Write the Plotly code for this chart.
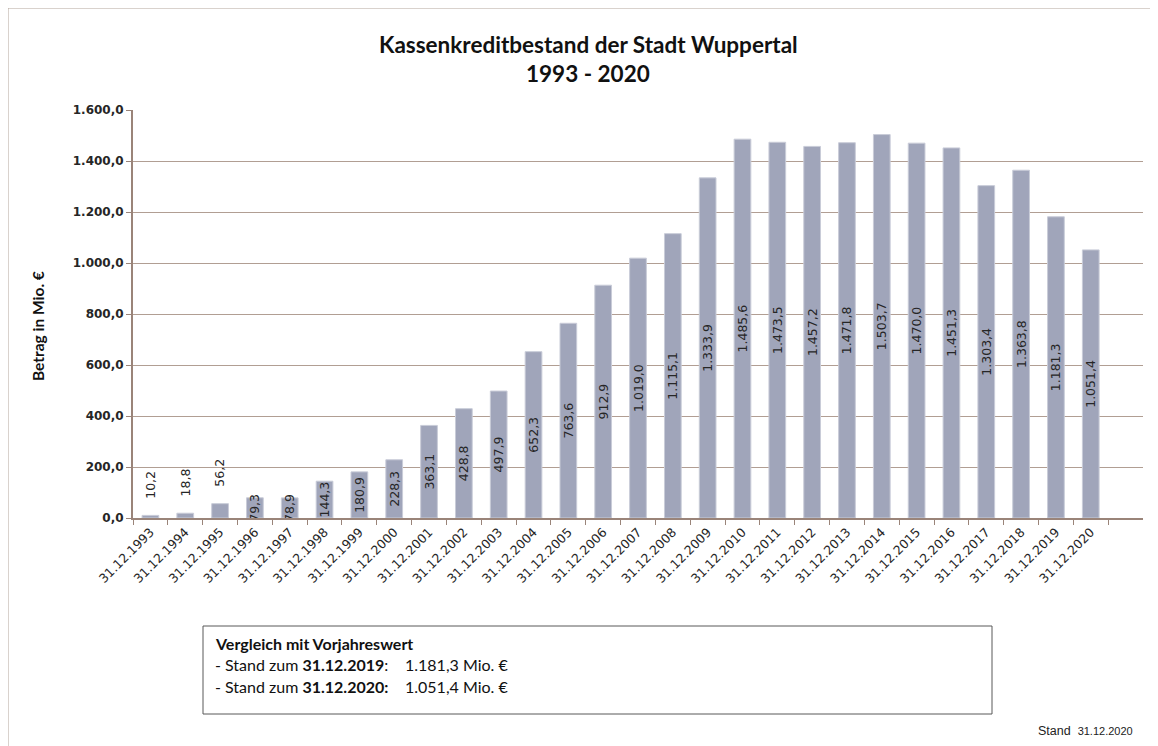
import plotly.graph_objects as go

# ---- data ----
dates = ["31.12.%d" % y for y in range(1993, 2021)]
values = [10.2, 18.8, 56.2, 79.3, 78.9, 144.3, 180.9, 228.3, 363.1, 428.8,
          497.9, 652.3, 763.6, 912.9, 1019.0, 1115.1, 1333.9, 1485.6, 1473.5,
          1457.2, 1471.8, 1503.7, 1470.0, 1451.3, 1303.4, 1363.8, 1181.3, 1051.4]
y_ticks = [0, 200, 400, 600, 800, 1000, 1200, 1400, 1600]
y_ticktext = ["0,0", "200,0", "400,0", "600,0", "800,0", "1.000,0",
              "1.200,0", "1.400,0", "1.600,0"]
outside_labels = ["31.12.1993", "31.12.1994", "31.12.1995"]


def de_fmt(v):
    s = "{:,.1f}".format(v)
    return s.replace(",", "X").replace(".", ",").replace("X", ".")


labels = [de_fmt(v) for v in values]
inside_text = ["" if d in outside_labels else t for d, t in zip(dates, labels)]

OFF = 8  # page body margin
W, H = 1158 - OFF, 746 - OFF
L, R, T, B = 133 - OFF, 15, 110 - OFF, 228
PW, PH = W - L - R, H - T - B


def px(x):
    return (x - OFF - L) / PW


def py(y):
    return (H - B - (y - OFF)) / PH


BAR = "#a0a5ba"
GRID = "#b19e93"
AXIS = "#9a8479"
TXT = "#262626"

fig = go.Figure()
fig.add_trace(go.Bar(
    x=dates, y=values,
    marker=dict(color=BAR, line=dict(color="#c9ccd8", width=1)),
    width=0.48,
    text=inside_text,
    textposition="inside",
    insidetextanchor="middle",
    textangle=-90,
    constraintext="none",
    insidetextfont=dict(family="DejaVu Sans", size=12.5, color=TXT),
    hoverinfo="x+y",
))

annotations = []
for d, v, t in zip(dates, values, labels):
    if d in outside_labels:
        annotations.append(dict(x=d, y=v, xref="x", yref="y", text=t,
                                showarrow=False, textangle=-90,
                                yanchor="bottom", yshift=15,
                                font=dict(family="DejaVu Sans", size=12.5, color=TXT)))

BOX_FONT = dict(family="Lato", size=16, color="#111111")
annotations += [
    dict(x=px(588), y=py(45), xref="paper", yref="paper",
         text="<b>Kassenkreditbestand der Stadt Wuppertal</b>", showarrow=False,
         font=dict(family="Lato", size=22.5, color="#111111"), xanchor="center", yanchor="middle"),
    dict(x=px(588), y=py(73), xref="paper", yref="paper",
         text="<b>1993 - 2020</b>", showarrow=False,
         font=dict(family="Lato", size=22.5, color="#111111"), xanchor="center", yanchor="middle"),
    dict(x=px(38), y=py(326), xref="paper", yref="paper",
         text="<b>Betrag in Mio. €</b>", showarrow=False, textangle=-90,
         font=dict(family="Lato", size=15.5, color="#111111"), xanchor="center", yanchor="middle"),
    dict(x=px(213), y=py(643), xref="paper", yref="paper",
         text="<b>Vergleich mit Vorjahreswert</b>", showarrow=False,
         font=BOX_FONT, xanchor="left", yanchor="middle"),
    dict(x=px(213), y=py(664), xref="paper", yref="paper",
         text="- Stand zum <b>31.12.2019</b>:", showarrow=False,
         font=BOX_FONT, xanchor="left", yanchor="middle"),
    dict(x=px(403), y=py(664), xref="paper", yref="paper",
         text="1.181,3 Mio. €", showarrow=False,
         font=BOX_FONT, xanchor="left", yanchor="middle"),
    dict(x=px(213), y=py(686), xref="paper", yref="paper",
         text="- Stand zum <b>31.12.2020:</b>", showarrow=False,
         font=BOX_FONT, xanchor="left", yanchor="middle"),
    dict(x=px(403), y=py(686), xref="paper", yref="paper",
         text="1.051,4 Mio. €", showarrow=False,
         font=BOX_FONT, xanchor="left", yanchor="middle"),
    dict(x=px(1036), y=py(731), xref="paper", yref="paper",
         text="Stand  <span style='font-size:11px'>31.12.2020</span>", showarrow=False,
         font=dict(family="Liberation Sans", size=12.5, color="#222222"), xanchor="left", yanchor="middle"),
]

shapes = [
    dict(type="line", xref="paper", yref="paper", x0=px(7), x1=px(1170), y0=py(7.5), y1=py(7.5),
         line=dict(color="#b3a59b", width=2)),
    dict(type="line", xref="paper", yref="paper", x0=px(7.5), x1=px(7.5), y0=py(7), y1=py(760),
         line=dict(color="#b3a59b", width=2)),
    dict(type="rect", xref="paper", yref="paper", x0=px(203), x1=px(992), y0=py(626), y1=py(714),
         line=dict(color="#595959", width=1), fillcolor="rgba(0,0,0,0)"),
]

fig.update_layout(
    width=W, height=H,
    margin=dict(l=L, r=R, t=T, b=B, autoexpand=False),
    paper_bgcolor="white", plot_bgcolor="white",
    showlegend=False,
    bargap=0.52,
    annotations=annotations,
    shapes=shapes,
    font=dict(family="DejaVu Sans", color=TXT),
)
fig.update_xaxes(
    type="category", categoryorder="array", categoryarray=dates,
    range=[-0.5, len(dates) + 0.5],
    tickson="boundaries", ticks="outside", ticklen=5, tickcolor=AXIS, tickwidth=1,
    tickangle=-45, tickfont=dict(family="DejaVu Sans", size=12.5, color=TXT),
    showline=True, linecolor=AXIS, linewidth=2,
    showgrid=False, fixedrange=True,
)
fig.update_yaxes(
    range=[0, 1600], tickvals=y_ticks, ticktext=y_ticktext,
    ticks="outside", ticklen=5, tickcolor=AXIS, tickwidth=1,
    tickfont=dict(family="DejaVu Sans", size=12, color=TXT, weight="bold"),
    showline=True, linecolor=AXIS, linewidth=2,
    showgrid=True, gridcolor=GRID, gridwidth=1,
    zeroline=False, fixedrange=True,
)

fig.write_html("out.html")
